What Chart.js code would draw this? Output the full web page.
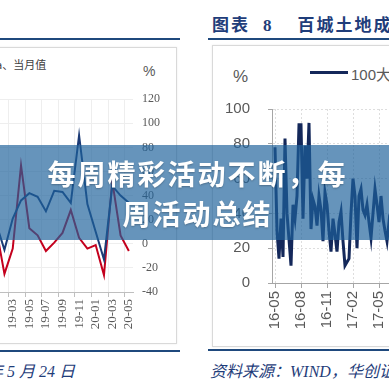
<!DOCTYPE html>
<html>
<head>
<meta charset="utf-8">
<script src="https://cdn.jsdelivr.net/npm/chart.js@4.4.0/dist/chart.umd.min.js"></script>
<style>
  html, body { margin: 0; padding: 0; background: #fff; }
  body { width: 389px; height: 389px; position: relative; overflow: hidden; font-family: "Liberation Sans", "Noto Sans CJK SC", sans-serif; }
  .abs { position: absolute; }
  .rule { position: absolute; height: 2px; background: #1f497d; }
  .box { position: absolute; border: 1px solid #d9d9d9; box-shadow: 0 0 2px rgba(0,0,0,0.08); }
  .foot { position: absolute; font-style: italic; font-size: 16px; color: #1f3d7a; white-space: nowrap; font-family: "Liberation Serif", "Noto Sans CJK SC", serif; }
  #band { position: absolute; left: 0; top: 145px; width: 389px; height: 95px; background: rgba(30,98,155,0.68);
          display: flex; align-items: center; justify-content: center; }
  #band div { color: #fff; font-family: "Noto Sans CJK SC", sans-serif; font-weight: 700; font-size: 28px; letter-spacing: 2px;
              line-height: 40px; text-align: center; text-shadow: 0 1px 2px rgba(0,0,0,0.25); padding-left: 6px; }
</style>
</head>
<body>

<!-- 左侧图 -->
<div class="rule" style="left:0; top:38px; width:180px;"></div>
<div class="box" style="left:-5px; top:47px; width:180px; height:295px;"></div>
<div class="abs" style="left:-4px; top:56px; font-size:11px; color:#404040; font-family:'Noto Sans CJK SC';">a、当月值</div>
<div class="abs" style="left:143px; top:63px; font-size:14px; color:#595959;">%</div>
<canvas id="chartIzq" class="abs" width="200" height="259" style="left:-20px; top:83px;"></canvas>
<div class="rule" style="left:0; top:350px; width:180px;"></div>
<div class="foot" style="left:-13px; top:358px;">年 5 月 24 日</div>

<!-- 右侧图 -->
<div class="abs" style="left:212px; top:11px; font-size:17px; font-weight:bold; color:#1f3d7a; white-space:nowrap; font-family:'Liberation Serif','Noto Sans CJK SC',serif; letter-spacing:2px;">图表<span style="margin-left:13px;">8</span><span style="margin-left:24px;">百城土地成交溢价率</span></div>
<div class="rule" style="left:208px; top:38px; width:181px;"></div>
<div class="box" style="left:212px; top:45px; width:190px; height:300px;"></div>
<div class="abs" style="left:233px; top:67px; font-size:17px; color:#595959;">%</div>
<div class="abs" style="left:310px; top:71px; width:38px; height:3px; background:#14285a;"></div>
<div class="abs" style="left:351px; top:63px; font-size:15px; color:#595959; white-space:nowrap;">100大中城市：成交土地溢价率</div>
<canvas id="chartDer" class="abs" width="178" height="256" style="left:222px; top:82px;"></canvas>
<div class="rule" style="left:208px; top:349px; width:181px;"></div>
<div class="foot" style="left:210px; top:358px;">资料来源：WIND，华创证券</div>

<!-- 遮罩标题 -->
<div id="band"><div>每周精彩活动不断，每<br>周活动总结</div></div>

<script>
// 左图：月度数据
const mesesIzq = ['19-01','19-02','19-03','19-04','19-05','19-06','19-07','19-08','19-09',
                  '19-10','19-11','19-12','20-01','20-02','20-03','20-04','20-05'];
const serieAzul = [17, -5, 21, 36, 42, 39, 27, 44, 43, 34, 90, 33, 10, -13, 48, 40, 34];
const serieRoja = [13, -25, -4, 65, 13, 7, -6, 1, 9, 28, 5, -4, -1, -26, 52, 7, -6];

// 右图：周度数据
const etiquetasDer = ['16-05', '16-08', '16-11', '17-02', '17-05'];
const semanasTick = [0, 13, 26, 39, 52];
const serieSemanal = [78, 30, 14, 37, 15, 83, 40, 25, 10, 45, 37, 50, 91, 91, 37, 79, 60, 92, 31, 48,
                      44, 33, 50, 42, 24, 52, 45, 30, 18, 37, 28, 18, 35, 41, 24, 10, 12, 14, 40, 60,
                      50, 20, 50, 54, 42, 39, 45, 35, 26, 40, 54, 45, 35, 50, 37, 30, 24, 35, 30, 40];

// Crear el gráfico izquierdo
const ctxIzq = document.getElementById('chartIzq').getContext('2d');
new Chart(ctxIzq, {
    type: 'line',
    data: {
        labels: mesesIzq,
        datasets: [
            { label: '100大中城市', data: serieAzul, borderColor: '#1b3a75', borderWidth: 2, pointRadius: 0, tension: 0 },
            { label: '当月值', data: serieRoja, borderColor: '#c4001d', borderWidth: 2, pointRadius: 0, tension: 0 }
        ]
    },
    options: {
        responsive: false,
        animation: false,
        layout: { padding: { left: 12, top: 7, right: 0, bottom: 0 } },
        plugins: { legend: { display: false }, tooltip: { enabled: false } },
        scales: {
            x: {
                type: 'category',
                offset: true,
                grid: {
                    offset: true,
                    color: c => (c.index % 2 === 0 ? '#eeeeee' : 'rgba(0,0,0,0)'),
                    tickColor: c => (c.index % 2 === 0 ? '#bfbfbf' : 'rgba(0,0,0,0)'),
                    tickLength: 5
                },
                border: { color: '#bfbfbf' },
                ticks: {
                    autoSkip: false,
                    minRotation: 90,
                    maxRotation: 90,
                    padding: 2,
                    color: '#595959',
                    font: { family: 'Liberation Serif', size: 13 },
                    callback: (v, i) => (i % 2 === 0 ? mesesIzq[i] : '')
                },
                afterFit: s => { s.height = 50; }
            },
            y: {
                position: 'right',
                min: -40,
                max: 120,
                grid: { color: '#eeeeee', drawTicks: false },
                border: { display: false },
                ticks: { stepSize: 20, padding: 9, color: '#595959', font: { family: 'Liberation Serif', size: 12 } },
                afterFit: s => { s.width = 47; }
            }
        }
    }
});

// Crear el gráfico derecho
const ctxDer = document.getElementById('chartDer').getContext('2d');
new Chart(ctxDer, {
    type: 'line',
    data: {
        datasets: [{
            label: '100大中城市：成交土地溢价率',
            data: serieSemanal.map((v, i) => ({ x: i, y: v })),
            borderColor: '#14285a',
            borderWidth: 3,
            pointRadius: 0,
            tension: 0
        }]
    },
    options: {
        responsive: false,
        animation: false,
        layout: { padding: { left: 0, top: 13, right: 0, bottom: 0 } },
        plugins: { legend: { display: false }, tooltip: { enabled: false } },
        scales: {
            x: {
                type: 'linear',
                min: -1.5,
                max: 59,
                afterBuildTicks: s => { s.ticks = semanasTick.map(v => ({ value: v })); },
                grid: { color: '#dedede', tickColor: '#a6a6a6', tickLength: 5 },
                border: { color: '#a6a6a6', dash: [2, 2] },
                ticks: {
                    minRotation: 90,
                    maxRotation: 90,
                    padding: 3,
                    color: '#595959',
                    font: { family: 'Liberation Sans', size: 15 },
                    callback: (v, i) => etiquetasDer[i]
                },
                afterFit: s => { s.height = 55; }
            },
            y: {
                min: 0,
                max: 100,
                grid: { color: '#dedede', tickColor: '#a6a6a6', tickLength: 4 },
                border: { color: '#a6a6a6', dash: [2, 2] },
                ticks: { stepSize: 20, padding: 18, color: '#595959', font: { family: 'Liberation Sans', size: 15 } },
                afterFit: s => { s.width = 50; }
            }
        }
    }
});
</script>
</body>
</html>
